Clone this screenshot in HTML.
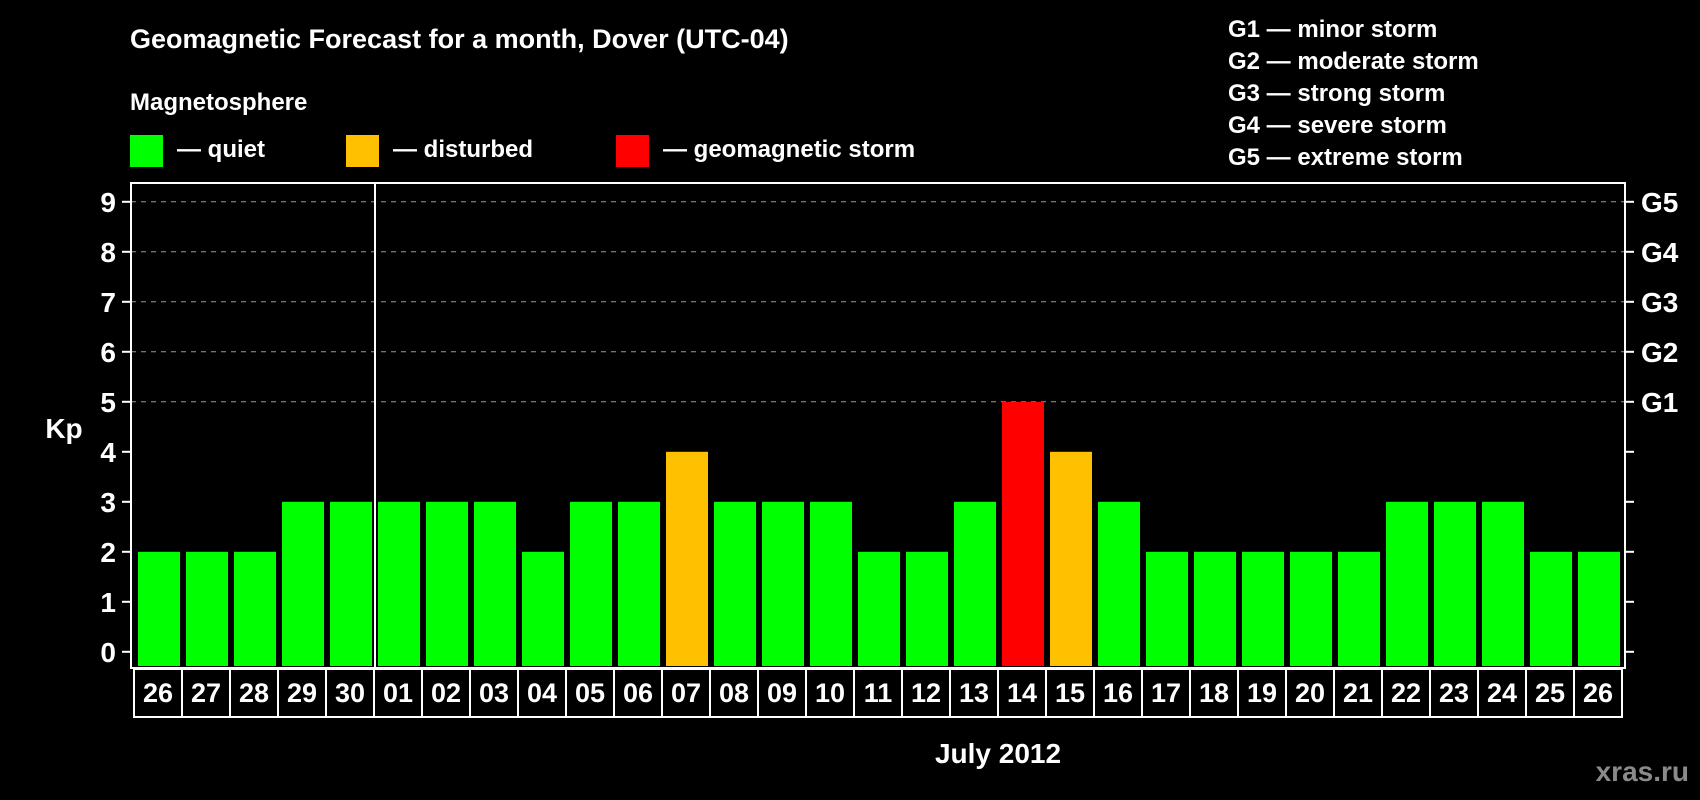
<!DOCTYPE html>
<html><head><meta charset="utf-8"><style>
html,body{margin:0;padding:0;background:#000;}
svg{display:block;font-family:"Liberation Sans",Arial,sans-serif;font-weight:bold;}
</style></head><body>
<svg id="chart" width="1700" height="800" viewBox="0 0 1700 800">
<rect x="0" y="0" width="1700" height="800" fill="#000"/>
<text x="130" y="48" fill="#fff" font-size="27">Geomagnetic Forecast for a month, Dover (UTC-04)</text>
<text x="130" y="110" fill="#fff" font-size="24">Magnetosphere</text>
<g><rect x="130" y="135" width="33" height="32" fill="#00ff00"/><text x="177" y="157" fill="#fff" font-size="24">— quiet</text></g>
<g><rect x="346" y="135" width="33" height="32" fill="#ffc000"/><text x="393" y="157" fill="#fff" font-size="24">— disturbed</text></g>
<g><rect x="616" y="135" width="33" height="32" fill="#ff0000"/><text x="663" y="157" fill="#fff" font-size="24">— geomagnetic storm</text></g>
<g font-size="24" fill="#fff">
<text x="1228" y="37">G1 — minor storm</text>
<text x="1228" y="69">G2 — moderate storm</text>
<text x="1228" y="101">G3 — strong storm</text>
<text x="1228" y="133">G4 — severe storm</text>
<text x="1228" y="165">G5 — extreme storm</text>
</g>
<g id="plot"></g>
<text x="64" y="438" fill="#fff" font-size="28" text-anchor="middle">Kp</text>
<text x="998" y="763" fill="#fff" font-size="28" text-anchor="middle">July 2012</text>
<text x="1689" y="781" fill="#8a8a8a" font-size="28" text-anchor="end">xras.ru</text>
</svg>
<script>
const dayLabels = ["26","27","28","29","30","01","02","03","04","05","06","07","08","09","10","11","12","13","14","15","16","17","18","19","20","21","22","23","24","25","26"];
const kpValues = [2,2,2,3,3,3,3,3,2,3,3,4,3,3,3,2,2,3,5,4,3,2,2,2,2,2,3,3,3,2,2];
const yTicks = [0,1,2,3,4,5,6,7,8,9];
const gLabels = ["G1","G2","G3","G4","G5"];
const gLevels = [5,6,7,8,9];
const monthStartIndex = 5;

const NS = "http://www.w3.org/2000/svg";
const plot = document.getElementById("plot");
const L = 131, R = 1625, T = 183, B = 668;
const pitch = 48, barW = 42, x0 = 138;
function yScale(v){ return 651.8 - v * 50; }
function xScale(i){ return x0 + i * pitch; }
function mk(tag, attrs){ const e = document.createElementNS(NS, tag); for (const k in attrs) e.setAttribute(k, attrs[k]); plot.appendChild(e); return e; }
function colorFor(v){ return v >= 5 ? "#ff0000" : (v >= 4 ? "#ffc000" : "#00ff00"); }

gLevels.forEach((lv) => {
  const y = yScale(lv);
  const ln = mk("line", {x1: L, x2: R, y1: y, y2: y, stroke: "#9a9a9a", "stroke-width": 1, "stroke-dasharray": "5,5"});
  
  
});

kpValues.forEach((v, i) => {
  const y = yScale(v);
  const r = mk("rect", {x: xScale(i), y: y, width: barW, height: B - 2 - y, fill: colorFor(v)});
  
  
});

const frame = mk("rect", {x: L, y: T, width: R - L, height: B - T, fill: "none", stroke: "#fff", "stroke-width": 2});



const sepX = xScale(monthStartIndex) - 3;
const sep = mk("line", {x1: sepX, x2: sepX, y1: T, y2: B, stroke: "#fff", "stroke-width": 2});



yTicks.forEach((t) => {
  const y = yScale(t);
  const tk = mk("line", {x1: L - 9, x2: L, y1: y, y2: y, stroke: "#fff", "stroke-width": 2});
  
  
  const tr = mk("line", {x1: R, x2: R + 9, y1: y, y2: y, stroke: "#fff", "stroke-width": 2});
  
  
  const lb = mk("text", {x: 116, y: y + 10, fill: "#fff", "font-size": 28, "text-anchor": "end"});
  lb.textContent = t;
  
  
});

gLabels.forEach((g, i) => {
  const lb = mk("text", {x: 1641, y: yScale(gLevels[i]) + 10, fill: "#fff", "font-size": 28});
  lb.textContent = g;
  
  
});

const bx0 = 134, bTop = 669, bBot = 717;
const box = mk("rect", {x: bx0, y: bTop, width: pitch * dayLabels.length, height: bBot - bTop, fill: "none", stroke: "#fff", "stroke-width": 2});


dayLabels.forEach((d, i) => {
  const cx = bx0 + i * pitch;
  if (i > 0) {
    const dv = mk("line", {x1: cx, x2: cx, y1: bTop, y2: bBot, stroke: "#fff", "stroke-width": 2});
    
    
  }
  const tx = mk("text", {x: cx + pitch / 2, y: 702, fill: "#fff", "font-size": 27, "text-anchor": "middle"});
  tx.textContent = d;
  
  
});
</script>
</body></html>
